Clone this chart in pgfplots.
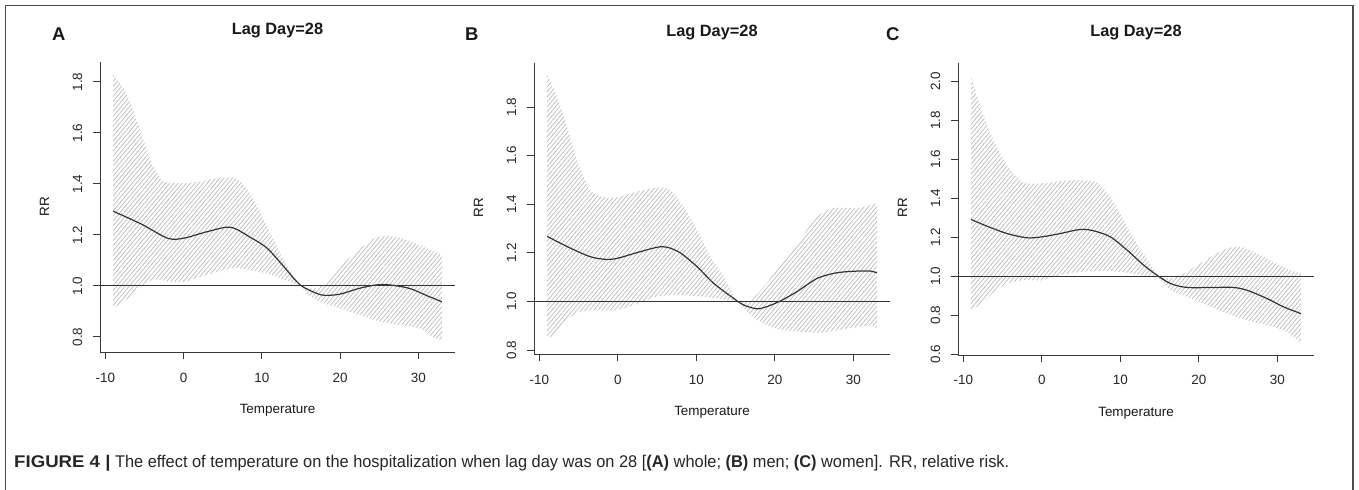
\documentclass[border=0pt]{standalone}
\usepackage{pgfplots}
\pgfplotsset{compat=1.18}
\usepgfplotslibrary{fillbetween}
\usetikzlibrary{patterns.meta}
\usepackage{fontspec}
\setmainfont{Liberation Sans}
\definecolor{hatch}{gray}{0.74}
\definecolor{axcol}{gray}{0.22}
\pgfplotsset{
  rpanel/.style={
    scale only axis, anchor=south west,
    xmin=-10.68, xmax=34.68,
    axis x line*=bottom, axis y line*=left,
    axis line style={axcol, line width=0.9bp},
    every tick/.style={axcol, line width=0.9bp},
    tick align=outside, major tick length=7bp,
    xtick={-10,0,10,20,30},
    /pgf/number format/assume math mode=true,
    tick label style={font=\fontsize{13.5}{15}\selectfont, text=black!85},
    xticklabel style={anchor=base, yshift=-23bp},
    yticklabel style={/pgf/number format/fixed, /pgf/number format/fixed zerofill, /pgf/number format/precision=1, xshift=-11bp, rotate=90, anchor=base},
  },
  band/.style={draw=none, pattern={Lines[angle=50,distance=3.2bp,line width=0.75bp]}, pattern color=hatch},
  est/.style={black!80, line width=1.2bp, smooth, tension=0.5},
  refl/.style={black!80, line width=1bp},
  bnd/.style={draw=none, smooth, tension=0.5},
}
\begin{document}
\begin{tikzpicture}[x=1bp,y=1bp]
\draw[gray!60!black, line width=1.3bp] (5.5bp,0bp) -- (5.5bp,484.5bp) -- (1353bp,484.5bp) -- (1353bp,0bp);

% ---------- Panel A ----------
\begin{axis}[rpanel, at={(100bp,138bp)}, width=355bp, height=290bp,
  ymin=0.741, ymax=1.878, ytick={0.8,1.0,1.2,1.4,1.6,1.8}]
\addplot[bnd, name path=upA] coordinates {(-9,1.83) (-7.55,1.769) (-6.28,1.677) (-5,1.56) (-3.73,1.461) (-2.46,1.409) (0,1.403) (2.1,1.409) (4.3,1.422) (6,1.425) (7.3,1.409) (9,1.337) (10.67,1.233) (12.8,1.102) (14.05,1.037) (15,1.0) (16.3,0.99) (17.5,0.998) (18.5,1.02) (20,1.076) (21.9,1.128) (24.4,1.187) (26.35,1.196) (28.5,1.18) (31,1.148) (33,1.122)};
\addplot[bnd, name path=loA] coordinates {(-9,0.912) (-7.1,0.952) (-5.43,0.998) (-3.73,1.026) (-2,1.018) (0,1.016) (2.1,1.035) (4.3,1.055) (6.4,1.07) (9,1.06) (11.5,1.04) (14,1.01) (15,1.0) (15.7,0.971) (17.4,0.938) (20,0.912) (22.5,0.886) (25.1,0.86) (27.6,0.847) (30.1,0.834) (31.8,0.80) (33,0.787)};
\addplot[band] fill between[of=upA and loA];
\addplot[refl] coordinates {(-10.68,1) (34.68,1)};
\addplot[est] coordinates {(-9,1.293) (-5.43,1.243) (-2.03,1.187) (0,1.187) (3.05,1.213) (6,1.23) (8.55,1.19) (10.67,1.148) (12.8,1.076) (14.9,1.004) (17,0.971) (18.1,0.963) (20,0.968) (22.5,0.991) (24.65,1.004) (26.35,1.004) (28.9,0.99) (31,0.963) (33,0.938)};
\end{axis}

% ---------- Panel B ----------
\begin{axis}[rpanel, at={(534bp,136bp)}, width=356bp, height=291bp,
  ymin=0.784, ymax=1.981, ytick={0.8,1.0,1.2,1.4,1.6,1.8}]
\addplot[bnd, name path=upB] coordinates {(-9,1.932) (-7.75,1.843) (-6.47,1.719) (-5.2,1.582) (-3.5,1.459) (-1.8,1.429) (0,1.429) (2.45,1.452) (5,1.468) (6.69,1.459) (8.38,1.39) (10.1,1.294) (11.8,1.184) (13.5,1.102) (14.5,1.04) (15.35,1.0) (16.9,1.005) (19,1.075) (21.1,1.171) (23.2,1.253) (25.4,1.349) (27.5,1.384) (30.5,1.384) (33,1.404)};
\addplot[bnd, name path=loB] coordinates {(-9,0.849) (-7.75,0.869) (-6.47,0.924) (-4.78,0.958) (-2.65,0.965) (0,0.965) (2.45,0.99) (5,1.02) (7.54,1.026) (10.1,1.022) (12.6,1.013) (14,1.005) (15.35,1.0) (16.9,0.944) (19,0.903) (21.1,0.883) (25.4,0.872) (29.6,0.89) (32.2,0.903) (33,0.889)};
\addplot[band] fill between[of=upB and loB];
\addplot[refl] coordinates {(-10.68,1) (34.68,1)};
\addplot[est] coordinates {(-9,1.268) (-6.47,1.226) (-3.5,1.184) (-1.38,1.173) (0,1.178) (2.45,1.201) (5,1.223) (6.3,1.223) (7.96,1.2) (10.1,1.143) (12.2,1.075) (14.75,1.013) (16,0.986) (17.7,0.97) (19,0.979) (20.7,1.002) (22.8,1.04) (25.4,1.095) (27.9,1.118) (30.5,1.125) (32.2,1.125) (33,1.118)};
\end{axis}

% ---------- Panel C ----------
\begin{axis}[rpanel, at={(958bp,135bp)}, width=356bp, height=292bp,
  ymin=0.595, ymax=2.095, ytick={0.6,0.8,1.0,1.2,1.4,1.6,1.8,2.0}]
\addplot[bnd, name path=upC] coordinates {(-9,2.021) (-7.83,1.871) (-6.56,1.734) (-5.29,1.631) (-4,1.545) (-2.3,1.48) (0,1.477) (2.36,1.488) (4.9,1.494) (7.03,1.48) (8.73,1.408) (10.4,1.288) (12.1,1.168) (13.8,1.065) (14.85,1.0) (16.5,0.99) (18.5,1.022) (20.2,1.065) (21.9,1.108) (23.6,1.142) (25.3,1.151) (27,1.125) (29.1,1.082) (31.2,1.039) (33,1.014)};
\addplot[bnd, name path=loC] coordinates {(-9,0.825) (-7.4,0.868) (-6.1,0.919) (-4.43,0.962) (-2.3,0.979) (0,0.979) (2.36,1.005) (4.9,1.022) (7.45,1.027) (10,1.022) (12.55,1.005) (14.85,0.99) (16.4,0.928) (18.5,0.894) (21,0.851) (23.6,0.808) (26.1,0.774) (28.7,0.748) (30.8,0.722) (32.1,0.688) (33,0.654)};
\addplot[band] fill between[of=upC and loC];
\addplot[refl] coordinates {(-10.68,1) (34.68,1)};
\addplot[est] coordinates {(-9,1.291) (-7,1.257) (-4.43,1.219) (-1.89,1.197) (0,1.202) (2.36,1.219) (4.9,1.24) (6.6,1.233) (8.73,1.202) (10.85,1.134) (12.97,1.057) (14.67,1.005) (16.4,0.962) (18.5,0.942) (21.9,0.942) (24.4,0.942) (26.1,0.928) (28.7,0.885) (30.8,0.842) (33,0.808)};
\end{axis}

% ---------- texts ----------
\begin{scope}[every node/.style={inner sep=0pt, text=black!90}]
\node[anchor=base west, font=\fontsize{18.5}{20}\selectfont\bfseries] at (52bp,449.5bp) {A};
\node[anchor=base west, font=\fontsize{18.5}{20}\selectfont\bfseries] at (465bp,449.5bp) {B};
\node[anchor=base west, font=\fontsize{18.5}{20}\selectfont\bfseries] at (886bp,449.5bp) {C};
\node[anchor=base, font=\fontsize{16.4}{18}\selectfont\bfseries] at (277.5bp,455bp) {Lag Day=28};
\node[anchor=base, font=\fontsize{16.4}{18}\selectfont\bfseries] at (712bp,453.5bp) {Lag Day=28};
\node[anchor=base, font=\fontsize{16.4}{18}\selectfont\bfseries] at (1136bp,453bp) {Lag Day=28};
\node[anchor=base, rotate=90, font=\fontsize{13.5}{15}\selectfont] at (49bp,283bp) {RR};
\node[anchor=base, rotate=90, font=\fontsize{13.5}{15}\selectfont] at (483bp,282bp) {RR};
\node[anchor=base, rotate=90, font=\fontsize{13.5}{15}\selectfont] at (907bp,282bp) {RR};
\node[anchor=base, font=\fontsize{13.5}{15}\selectfont] at (277.5bp,76bp) {Temperature};
\node[anchor=base, font=\fontsize{13.5}{15}\selectfont] at (712bp,74bp) {Temperature};
\node[anchor=base, font=\fontsize{13.5}{15}\selectfont] at (1136bp,73bp) {Temperature};
\node[anchor=base west, text=black!85, font=\fontsize{17}{19}\selectfont] at (14bp,23bp) {\scalebox{1.1}[1]{\textbf{FIGURE 4 |}}\scalebox{0.967}[1]{ The effect of temperature on the hospitalization when lag day was on 28 [\textbf{(A)} whole; \textbf{(B)} men; \textbf{(C)} women]. RR, relative risk.}};
\end{scope}
\pgfresetboundingbox
\useasboundingbox (0bp,0bp) rectangle (1359bp,490bp);
\end{tikzpicture}
\end{document}
